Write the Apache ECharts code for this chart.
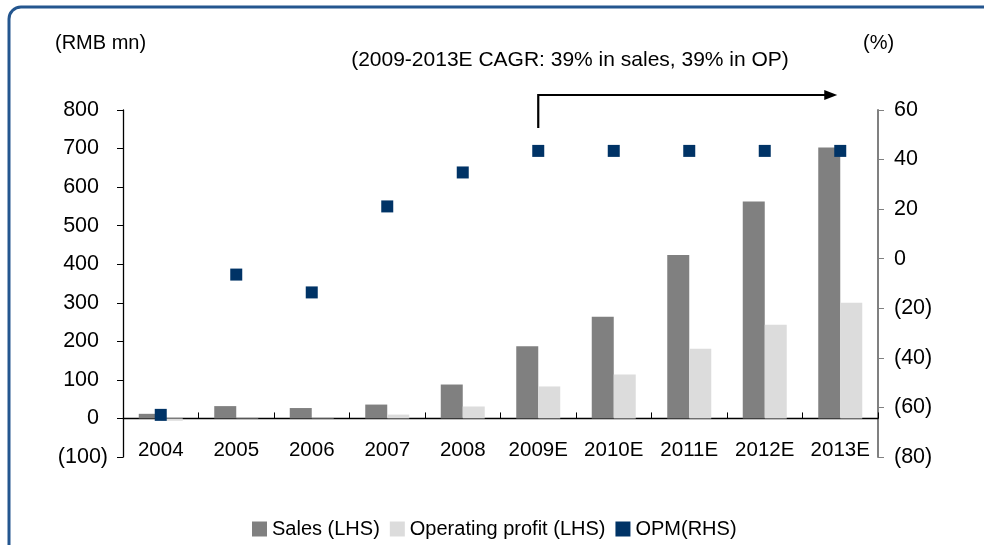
<!DOCTYPE html>
<html>
<head>
<meta charset="utf-8">
<script src="https://cdn.jsdelivr.net/npm/echarts@6/dist/echarts.min.js"></script>
<style>
  html, body { margin: 0; padding: 0; background: #fff; }
  #chart { width: 984px; height: 545px; }
</style>
</head>
<body>
<div id="chart"></div>
<script>
const years = ['2004', '2005', '2006', '2007', '2008', '2009E', '2010E', '2011E', '2012E', '2013E']
const sales = [12, 32, 27, 36, 88, 187, 264, 424, 563, 703]
const opProfit = [-6, -1, -1, 10, 31, 83, 114, 181, 243, 300]
const opm = [-63, -6.4, -13.6, 21.1, 34.8, 43.5, 43.5, 43.5, 43.5, 43.5]
const leftTicks = { min: -100, max: 800, step: 100 }
const rightTicks = { min: -80, max: 60, step: 20 }

const font = 'Liberation Sans'
const fontSize = 20
const valueFontSize = 21.5

// excel style: negatives in brackets
const bracket = v => (v < 0 ? '(' + (-v) + ')' : String(v))

const chart = echarts.init(document.getElementById('chart'))
chart.setOption({
  animation: false,
  textStyle: { fontFamily: font, color: '#000' },
  legend: {
    left: 247,
    top: 514,
    itemWidth: 15,
    itemHeight: 15,
    itemGap: 10,
    icon: 'rect',
    textStyle: { fontFamily: font, fontSize: fontSize, color: '#000' },
    data: ['Sales (LHS)', 'Operating profit (LHS)', 'OPM(RHS)']
  },
  grid: {
    left: 123,
    right: 106,
    top: 110,
    bottom: 88,
    containLabel: false
  },
  xAxis: {
    type: 'category',
    data: years,
    boundaryGap: true,
    axisLine: { onZero: true, onZeroAxisIndex: 0, lineStyle: { color: '#000', width: 1.3 } },
    axisTick: { show: true, inside: true, length: 6, lineStyle: { color: '#000' } },
    // labels stay at grid bottom with onZero, so pull them up under the zero line
    axisLabel: { interval: 0, margin: -17, fontFamily: font, fontSize: 20.5, color: '#000' },
    splitLine: { show: false }
  },
  yAxis: [{
    type: 'value',
    min: leftTicks.min,
    max: leftTicks.max,
    interval: leftTicks.step,
    axisLine: { show: true, lineStyle: { color: '#000', width: 1.3 } },
    axisTick: { show: true, length: 6, lineStyle: { color: '#000' } },
    axisLabel: {
      margin: 15,
      fontFamily: font,
      fontSize: valueFontSize,
      color: '#000',
      formatter: v => (v < 0 ? bracket(v) : '{p|' + v + '}'),
      rich: {
        p: { padding: [0, 9, 0, 0], fontFamily: font, fontSize: valueFontSize, color: '#000' }
      }
    },
    splitLine: { show: false }
  }, {
    type: 'value',
    position: 'right',
    min: rightTicks.min,
    max: rightTicks.max,
    interval: rightTicks.step,
    axisLine: { show: true, lineStyle: { color: '#808080', width: 2 } },
    axisTick: { show: true, length: 6, lineStyle: { color: '#808080' } },
    axisLabel: { margin: 16, fontFamily: font, fontSize: valueFontSize, color: '#000', formatter: bracket },
    splitLine: { show: false }
  }],
  series: [{
    name: 'Sales (LHS)',
    type: 'bar',
    data: sales,
    barWidth: 22,
    barGap: '0%',
    itemStyle: { color: '#808080' }
  }, {
    name: 'Operating profit (LHS)',
    type: 'bar',
    data: opProfit,
    barWidth: 22,
    barGap: '0%',
    itemStyle: { color: '#dcdcdc' }
  }, {
    name: 'OPM(RHS)',
    type: 'scatter',
    yAxisIndex: 1,
    data: opm,
    symbol: 'rect',
    symbolSize: 12,
    z: 5,
    itemStyle: { color: '#003366', opacity: 1 }
  }]
})

// arrow from 2009E to 2013E over the plot
const x1 = chart.convertToPixel({ xAxisIndex: 0 }, '2009E')
const x2 = chart.convertToPixel({ xAxisIndex: 0 }, '2013E') - 3
const yTop = 95
const yBottom = 128

chart.setOption({
  graphic: [{
    type: 'rect',
    silent: true,
    z: -1,
    shape: { x: 9, y: 7, width: 1000, height: 600, r: 12 },
    style: { fill: 'none', stroke: '#24568f', lineWidth: 3 }
  }, {
    type: 'text',
    left: 55,
    top: 33,
    style: { text: '(RMB mn)', font: fontSize + 'px "' + font + '"', fill: '#000' }
  }, {
    type: 'text',
    left: 863,
    top: 33,
    style: { text: '(%)', font: fontSize + 'px "' + font + '"', fill: '#000' }
  }, {
    type: 'text',
    x: 570,
    y: 60,
    style: {
      text: '(2009-2013E CAGR: 39% in sales, 39% in OP)',
      font: '21px "' + font + '"',
      fill: '#000',
      textAlign: 'center',
      textVerticalAlign: 'middle'
    }
  }, {
    type: 'polyline',
    shape: { points: [[x1, yBottom], [x1, yTop], [x2 - 10, yTop]] },
    style: { stroke: '#000', lineWidth: 2.2, fill: 'none' }
  }, {
    type: 'polygon',
    shape: { points: [[x2 - 13, yTop - 5], [x2, yTop], [x2 - 13, yTop + 5]] },
    style: { fill: '#000' }
  }]
})
</script>
</body>
</html>
